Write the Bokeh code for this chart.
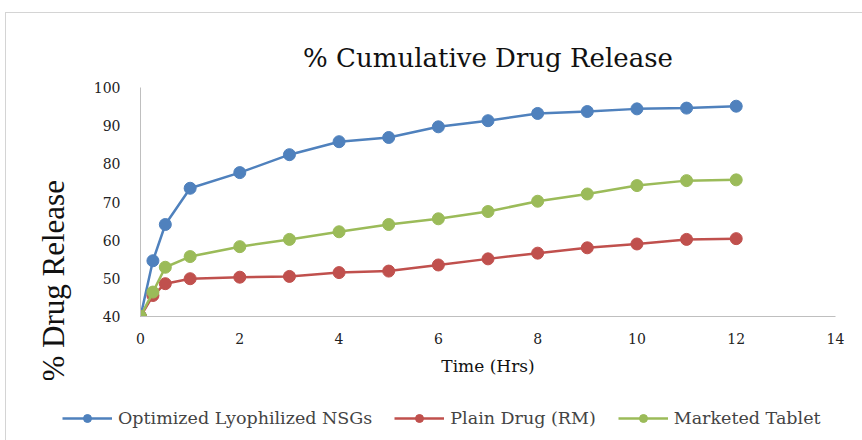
from bokeh.plotting import figure
from bokeh.models import Legend, LegendItem, FixedTicker, Range1d, Title
from bokeh.layouts import column
from bokeh.embed import file_html
from bokeh.resources import INLINE

# ---- data ----
time_hrs = [0, 0.25, 0.5, 1, 2, 3, 4, 5, 6, 7, 8, 9, 10, 11, 12]
nsg = [40, 54.6, 64.1, 73.6, 77.7, 82.4, 85.8, 86.9, 89.7, 91.3, 93.2, 93.7, 94.4, 94.6, 95.1]
plain = [40, 45.5, 48.6, 49.9, 50.3, 50.5, 51.5, 51.9, 53.5, 55.1, 56.6, 58.0, 59.0, 60.2, 60.4]
marketed = [40, 46.4, 52.9, 55.7, 58.3, 60.2, 62.2, 64.1, 65.6, 67.5, 70.2, 72.1, 74.3, 75.6, 75.8]

series_names = ["Optimized Lyophilized NSGs", "Plain Drug (RM)", "Marketed Tablet"]
series_colors = ["#4F81BD", "#C0504D", "#9BBB59"]
x_ticks = [0, 2, 4, 6, 8, 10, 12, 14]
y_ticks = [40, 50, 60, 70, 80, 90, 100]

title_text = "% Cumulative Drug Release"
x_title = "Time (Hrs)"
y_title = "% Drug Release"

SERIF = "DejaVu Serif"

p = figure(width=856, height=367, output_backend="svg", toolbar_location=None,
           x_range=Range1d(0, 14), y_range=Range1d(40, 100),
           min_border_left=134, min_border_right=27, min_border_top=74, min_border_bottom=64)
p.frame_align = False
p.outline_line_color = None
p.grid.grid_line_color = None
p.background_fill_color = "white"
p.border_fill_color = "white"

for ax, ticks in ((p.xaxis, x_ticks), (p.yaxis, y_ticks)):
    ax.ticker = FixedTicker(ticks=ticks)
    ax.axis_line_color = "#bfbfbf"
    ax.major_tick_line_color = None
    ax.minor_tick_line_color = None
    ax.major_label_text_font = SERIF
    ax.major_label_text_font_size = "14px"
    ax.major_label_text_color = "#222222"
p.xaxis.major_label_standoff = 10
p.yaxis.major_label_standoff = 14

p.xaxis.axis_label = x_title
p.xaxis.axis_label_text_font = SERIF
p.xaxis.axis_label_text_font_size = "17px"
p.xaxis.axis_label_text_font_style = "normal"
p.xaxis.axis_label_text_color = "#111111"
p.xaxis.axis_label_standoff = 9

for ys, c in zip([nsg, plain, marketed], series_colors):
    p.line(time_hrs, ys, line_color=c, line_width=2.5)
    p.scatter(time_hrs, ys, size=12, fill_color=c, line_color=c)

p.title.text = title_text
p.title.align = "center"
p.title.text_font = SERIF
p.title.text_font_size = "26px"
p.title.text_font_style = "normal"
p.title.text_color = "#111111"
p.title.standoff = 29

ytitle = Title(text=y_title, align="left", offset=-65, text_font="Liberation Serif",
               text_font_size="31px", text_font_style="normal", text_color="#111111", standoff=40)
p.add_layout(ytitle, "left")

# legend strip
lg = figure(width=856, height=60, output_backend="svg", toolbar_location=None,
            x_range=Range1d(0, 1), y_range=Range1d(0, 1), min_border=0,
            x_axis_type=None, y_axis_type=None)
lg.frame_align = False
lg.grid.grid_line_color = None
lg.outline_line_color = None
items = []
for n, c in zip(series_names, series_colors):
    l = lg.line([-5, -4], [-5, -4], line_color=c, line_width=2.5)
    s = lg.scatter([-5], [-5], size=12, fill_color=c, line_color=c)
    items.append(LegendItem(label=n, renderers=[l, s]))
legend = Legend(items=items, location=(56, 12), orientation="horizontal", glyph_width=50,
                glyph_height=20, label_text_font=SERIF, label_text_font_size="17.5px",
                label_standoff=6, spacing=22, border_line_color=None,
                background_fill_alpha=0, padding=6, margin=0)
lg.add_layout(legend)

layout = column(p, lg, spacing=0)
layout.styles = {"margin-left": "5px", "margin-top": "12px",
                 "border-left": "1px solid #d4d4d4", "border-top": "1px solid #d4d4d4"}

open("out.html", "w").write(file_html(layout, INLINE))
